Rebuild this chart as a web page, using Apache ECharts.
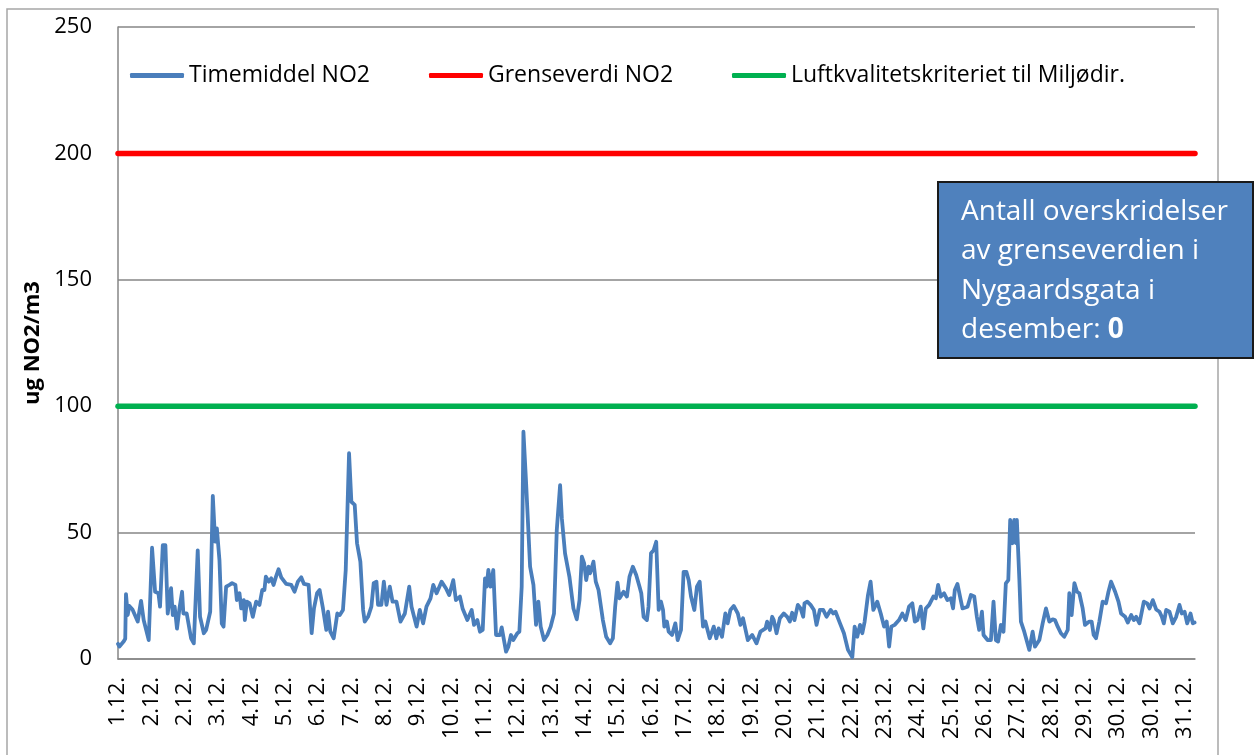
<!DOCTYPE html>
<html lang="no">
<head>
    <meta charset="UTF-8"/>
    <title>NO2 Nygaardsgata desember</title>
    <script src="https://cdn.jsdelivr.net/npm/echarts@6/dist/echarts.min.js"></script>
    <style>
        html, body { margin: 0; padding: 0; background: #fff; }
        #main { width: 1255px; height: 755px; }
    </style>
</head>
<body>
<div id="main"></div>
<script>
    // dato-etiketter under x-aksen (hver 23. time, som i Excel)
    var tickLabels = ['1.12.', '2.12.', '2.12.', '3.12.', '4.12.', '5.12.', '6.12.', '7.12.', '8.12.', '9.12.',
        '10.12.', '11.12.', '12.12.', '13.12.', '14.12.', '15.12.', '16.12.', '17.12.', '18.12.', '19.12.',
        '20.12.', '21.12.', '22.12.', '23.12.', '24.12.', '25.12.', '26.12.', '27.12.', '28.12.', '29.12.',
        '30.12.', '30.12.', '31.12.'];
    var tickStep = 23;
    var lastHour = 743;

    // timemiddel NO2: time-indeks og verdi (ug/m3)
    var hours = [0, 1, 4, 5, 5.5, 6.7, 7.8, 10, 13.6, 15.9, 17.7, 21.2, 23.5, 25.6, 27.9, 29, 30.9, 32.7, 34.3, 36.6,
        37.8, 39.1, 40.7, 42.4, 44.2, 45.1, 47.4, 50.4, 52.3, 55, 56.6, 59.2, 60.8, 63.6, 65.4, 67, 68.2, 70, 71.6, 72.8,
        74.6, 76.9, 78.7, 81, 82, 83.8, 85, 86.8, 87.5, 88.9, 90.8, 93, 95.3, 97.6, 99.5, 101, 102, 104, 105.7, 107.3,
        109, 110.8, 112.6, 116, 119.5, 121.8, 124.1, 126.4, 128.3, 131.5, 133.6, 135.2, 137.3, 139.1, 141.4, 143.7, 144.9, 146.5, 148.8, 151.3,
        153, 155.2, 157.1, 159.4, 161, 163.3, 164.9, 167.2, 169.1, 170.2, 172.5, 174.8, 176.4, 178.3, 179.4, 181.7, 183.4, 185.2, 187.5, 189.4,
        192.1, 194.9, 197.9, 200.9, 202.5, 206, 208.2, 210.5, 212.8, 215.6, 217.5, 219.8, 223.2, 226.2, 228.5, 231.3, 233.1, 235.9, 237.7, 241,
        244, 245.6, 247.9, 249.7, 251.6, 253.2, 254.3, 255.5, 257, 258.9, 260.8, 263.5, 264.7, 267.7, 269.3, 271.1, 272.7, 275.5, 276.9, 278.5,
        279.7, 281.5, 284.3, 286.6, 288.4, 290, 291.6, 293.9, 296.2, 298.5, 300.8, 302.7, 305, 306.2, 308.4, 311.4, 314.2, 316.5, 318.4, 320,
        321.6, 323, 324.6, 325.7, 328, 329.6, 331.5, 334.5, 336.8, 339.5, 341.4, 343, 344.6, 346, 348.8, 351.1, 352.9, 355.2, 357.5, 359.8,
        361, 362.6, 364.9, 366, 367.7, 369.5, 371.3, 373, 374.6, 376, 376.9, 378.7, 379.9, 382.2, 384.5, 386.1, 388.4, 390.2, 392.1, 393.7,
        395.3, 397.6, 399.4, 401.3, 403.6, 405.2, 408.2, 411, 412.8, 414.4, 416.7, 419, 420.6, 422.5, 424.8, 427.6, 429.4, 431.2, 434.5, 437.5,
        440.5, 443.2, 446.7, 447.8, 449.7, 451.3, 452.4, 454.3, 456.6, 459.3, 461.7, 463.5, 465.1, 466.7, 469, 470.9, 472.7, 473.6, 475.5, 477.8,
        480.1, 481.9, 484.2, 486.5, 488.8, 491.6, 493.4, 495, 498.1, 500.8, 503.6, 506.6, 508.2, 510, 511.9, 513.5, 515.1, 517.4, 519.2, 521.1,
        523.8, 526.2, 528.5, 530.3, 532, 533.5, 535.8, 538.8, 541.1, 543.4, 545.7, 548, 549.7, 551.5, 553.8, 555.6, 557.3, 559.6, 562.5, 564.2,
        565.8, 567.6, 569.9, 572.2, 574.5, 576.1, 577.3, 579.1, 581.4, 582.6, 586.1, 588.4, 590.7, 592.5, 594.1, 596, 597.1, 599.9, 602.2, 604,
        605.6, 607.2, 609.1, 610.9, 612.5, 614.2, 615.5, 617.1, 618.3, 619.5, 620.1, 621.8, 622.9, 625.2, 628.7, 631, 632.6, 635.6, 637.9, 640.2,
        642.5, 644.8, 646.4, 648.3, 650.5, 652.8, 655.2, 656.3, 657.9, 659.8, 661.6, 663.2, 665.5, 667.1, 670.1, 671.7, 673.1, 674.7, 677, 679.3,
        680.5, 681.6, 683.3, 685.1, 686.3, 687.9, 690.2, 692, 694.8, 696.6, 699, 700.8, 702.4, 704.7, 707.7, 710, 711.6, 713.9, 716.2, 718.5,
        720.1, 721.5, 723.1, 725.4, 727.7, 730, 732.3, 733.9, 735.8, 737.6, 739.9, 741.5, 742.7];
    var no2 = [6, 4.9, 7, 8, 25.7, 17.4, 21, 19.6, 14.8, 23, 15.4, 7.5, 44, 26.6, 26, 20.7, 45, 45, 18, 28,
        17.4, 20.7, 12, 20, 26.6, 18, 18, 8.2, 6.2, 43, 16.7, 10.2, 11.5, 18.7, 64.5, 46.4, 51.7, 39, 14, 12.8,
        28.6, 29.3, 30, 29.3, 23.3, 26, 20, 23.3, 15.4, 22.7, 22, 16.7, 22.7, 21.4, 27.3, 27.3, 32.6, 30.6, 31.9, 29.3,
        32.6, 35.5, 32.3, 29.7, 29.3, 26.6, 30.6, 32.3, 29.7, 29.3, 10.2, 20, 26, 27.3, 20, 11.5, 18.7, 10.8, 8.2, 18,
        17.4, 19.4, 35.2, 81.4, 62.2, 61, 45.8, 38.5, 19.4, 14.8, 16.7, 20.7, 30, 30.6, 21.4, 21.4, 30.6, 21.4, 28.6, 22.7,
        22.7, 14.8, 18, 28.6, 20.7, 12.8, 19.4, 14.1, 20.7, 24, 29.3, 26, 30.6, 28, 25.3, 31.2, 23.3, 24.7, 20, 15.4,
        19.4, 13.5, 15.4, 10.8, 11.5, 31.9, 28.6, 35.2, 28.6, 35.2, 9.5, 9.5, 12.5, 2.9, 4.9, 9.5, 7.5, 10.2, 10.8, 28.6,
        89.9, 70.1, 36.5, 29.3, 13.5, 22.7, 12.8, 7.5, 9.5, 12.8, 18, 51, 68.8, 55.6, 41.8, 32.6, 20, 15.7, 23.3, 40.5,
        37.8, 31.2, 36.5, 33.9, 38.5, 30.6, 27.3, 15.4, 8.8, 6.2, 8.2, 20.7, 30.2, 24, 26.6, 24.7, 32.6, 36.5, 33.2, 28.6,
        26, 16.7, 15.4, 20.7, 41.8, 43, 46.4, 19.4, 22.7, 19.4, 12.8, 14.8, 10.8, 9.5, 14.1, 7.5, 11.5, 34.5, 34.5, 31.2,
        24.7, 19.4, 28.6, 30.6, 12.8, 14.8, 8.2, 12.8, 8.2, 12.1, 8.8, 18, 14.1, 19.4, 21, 18, 13.5, 16.1, 7.5, 9.5,
        6.2, 10.8, 12.1, 14.8, 11.5, 16.7, 15.4, 10.2, 16.1, 18, 16.7, 14.8, 18.3, 15.4, 21.4, 20, 16.7, 22, 22.7, 21.4,
        19.4, 13.5, 19.4, 19.4, 16.7, 19.4, 18, 18.7, 14.1, 10.2, 3.6, 0.7, 12.8, 8.8, 13.5, 10.2, 14.8, 25.3, 30.6, 19.4,
        22.7, 18, 12.8, 14.8, 4.9, 12.8, 13.5, 15.4, 18, 15.4, 20.7, 22, 14.8, 15.4, 20.7, 12.1, 20, 21.4, 24.7, 24,
        29.3, 24.7, 26, 23.3, 24, 20, 27.3, 29.7, 23.3, 20, 20.7, 25.3, 24.7, 16.7, 11.5, 18.7, 9.5, 7.5, 7.5, 22.7,
        7.5, 6.9, 13.5, 10.8, 29.9, 31.2, 55, 45.8, 55, 45.8, 55, 31.9, 14.8, 10.8, 3.6, 10.8, 4.9, 7.5, 14.1, 20,
        14.8, 15.7, 15.4, 12.8, 10.2, 8.8, 11.5, 26, 17.4, 30, 26.6, 26, 20, 13.5, 14.8, 14.8, 9.5, 8.2, 14.8, 22.7,
        23.3, 22, 26.6, 30.6, 31.2, 26.6, 22.7, 18, 16.7, 14.4, 17.4, 15.4, 16.7, 14.1, 22.7, 22, 20, 23.3, 19.6, 18.7,
        16.7, 14.1, 19.4, 18.7, 14.1, 16.7, 21.4, 18, 18.7, 14.1, 18, 14.1, 14.4];

    var grenseverdi = 200;   // grenseverdi NO2
    var miljoKriterium = 100; // luftkvalitetskriteriet

    var font = 'Open Sans';
    var seriesNames = ['Timemiddel NO2', 'Grenseverdi NO2', 'Luftkvalitetskriteriet til Miljødir.'];

    var lineData = hours.map(function (h, i) { return [h, no2[i]]; });

    var myChart = echarts.init(document.getElementById('main'));

    function legendAt(name, left) {
        return {
            data: [name],
            left: left,
            top: 59,
            icon: 'roundRect',
            itemWidth: 54,
            itemHeight: 5,
            selectedMode: false,
            textStyle: { fontFamily: font, fontSize: 23, color: '#000' }
        };
    }

    var option = {
        animation: false,
        backgroundColor: '#fff',
        grid: { left: 118, right: 60, top: 27, bottom: 96 },
        legend: [legendAt(seriesNames[0], 125), legendAt(seriesNames[1], 424), legendAt(seriesNames[2], 727)],
        xAxis: {
            type: 'value',
            min: 0,
            max: lastHour,
            interval: tickStep,
            axisLine: { show: true, lineStyle: { color: '#868686', width: 1.5 } },
            axisTick: { show: false },
            splitLine: { show: false },
            axisLabel: {
                rotate: 90,
                margin: 18,
                showMaxLabel: false,
                fontFamily: font,
                fontSize: 22,
                color: '#000',
                formatter: function (v) {
                    var k = Math.round(v / tickStep);
                    return tickLabels[k] || '';
                }
            }
        },
        yAxis: {
            type: 'value',
            min: 0,
            max: 250,
            interval: 50,
            name: 'ug NO2/m3',
            nameLocation: 'middle',
            nameGap: 74,
            nameTextStyle: { fontFamily: font, fontSize: 22, fontWeight: 'bold', color: '#000' },
            axisLine: { show: true, lineStyle: { color: '#868686', width: 1.5 } },
            axisTick: { show: false },
            splitLine: { lineStyle: { color: '#868686', width: 1.5 } },
            axisLabel: { margin: 26, fontFamily: font, fontSize: 22, color: '#000' }
        },
        series: [
            {
                name: seriesNames[0],
                type: 'line',
                data: lineData,
                symbol: 'none',
                color: '#4A7EBB',
                lineStyle: { color: '#4A7EBB', width: 3.8, join: 'round', cap: 'round' },
                z: 3
            },
            {
                name: seriesNames[1],
                type: 'line',
                data: [[0, grenseverdi], [lastHour, grenseverdi]],
                symbol: 'none',
                color: '#FF0000',
                lineStyle: { color: '#FF0000', width: 5.5, cap: 'round' },
                z: 2
            },
            {
                name: seriesNames[2],
                type: 'line',
                data: [[0, miljoKriterium], [lastHour, miljoKriterium]],
                symbol: 'none',
                color: '#00B050',
                lineStyle: { color: '#00B050', width: 5.5, cap: 'round' },
                z: 2
            }
        ],
        graphic: [
            {
                type: 'rect',
                shape: { x: 7, y: 9, width: 1211, height: 760 },
                style: { fill: 'none', stroke: '#A6A6A6', lineWidth: 1.5 },
                silent: true,
                z: -1
            },
            {
                type: 'rect',
                shape: { x: 938, y: 182, width: 315, height: 176 },
                style: { fill: '#4F81BD', stroke: '#1A1A1A', lineWidth: 2 },
                z: 10
            },
            {
                type: 'text',
                x: 961,
                y: 192,
                z: 11,
                style: {
                    text: 'Antall overskridelser\nav grenseverdien i\nNygaardsgata i\ndesember: {b|0}',
                    fill: '#fff',
                    font: '28px "Open Sans"',
                    lineHeight: 39.5,
                    rich: { b: { fontWeight: 'bold', fontSize: 28, fontFamily: font, fill: '#fff', lineHeight: 39.5 } }
                }
            }
        ]
    };

    myChart.setOption(option);
</script>
</body>
</html>
